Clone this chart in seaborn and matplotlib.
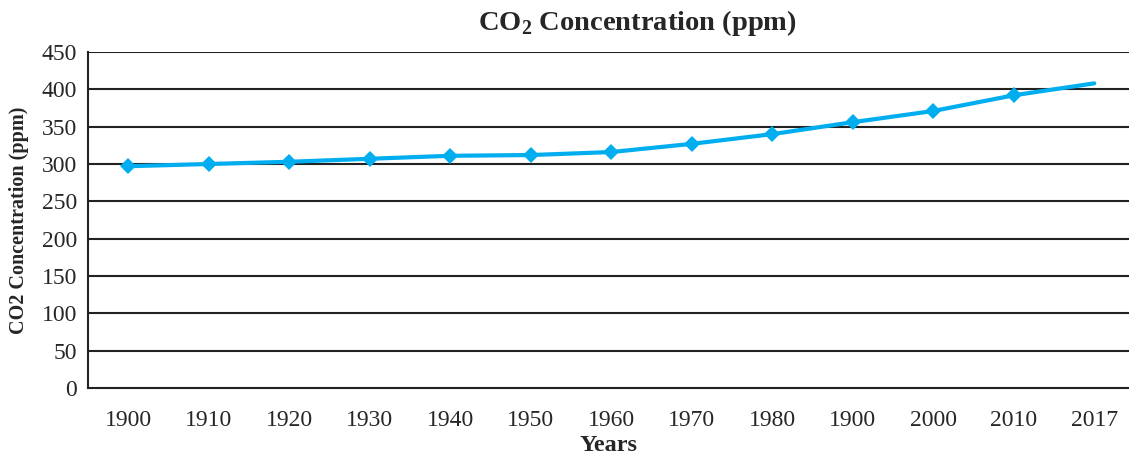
import numpy as np
import pandas as pd
import matplotlib
matplotlib.use("Agg")
import matplotlib.pyplot as plt
import seaborn as sns

# Dados
years = ["1900", "1910", "1920", "1930", "1940", "1950", "1960",
         "1970", "1980", "1900", "2000", "2010", "2017"]
co2_ppm = [297, 300, 303, 307, 311, 312, 316, 327, 340, 356, 371, 392, 408]
y_ticks = [0, 50, 100, 150, 200, 250, 300, 350, 400, 450]

sns.set_style("white")
plt.rcParams["font.family"] = ["Liberation Serif", "DejaVu Serif"]
plt.rcParams["mathtext.fontset"] = "custom"
plt.rcParams["mathtext.bf"] = "Liberation Serif:bold"
plt.rcParams["mathtext.rm"] = "Liberation Serif:bold"

df = pd.DataFrame({"pos": np.arange(len(years)), "ppm": co2_ppm})

fig = plt.figure(figsize=(11.29, 4.55), dpi=100)
ax = fig.add_axes([88 / 1129, 1 - 388 / 455, 1 - 88 / 1129, (388 - 52) / 455])

sns.lineplot(data=df, x="pos", y="ppm", ax=ax, color="#00AEEF", linewidth=3,
             marker="D", markersize=8, markeredgewidth=0,
             markevery=list(range(len(years) - 1)), zorder=3)

ax.set_ylim(0, 450)
ax.set_yticks(y_ticks)
ax.set_xlim(-0.5, -0.5 + 1041 / 80.5)
ax.set_xticks(df["pos"])
ax.set_xticklabels(years)
ax.set_xticks(np.arange(-0.5, len(years) - 0.5, 1), minor=True)
ax.tick_params(axis="x", which="major", length=0, pad=16, labelsize=17)
ax.tick_params(axis="x", which="minor", length=7, width=1.5, color="#222222", direction="out")
ax.tick_params(axis="y", length=6, width=1.5, color="#222222", labelsize=17, pad=2)

for v in y_ticks[1:]:
    ax.axhline(v, color="#222222", linewidth=1.5, zorder=1)

for side in ["top", "right"]:
    ax.spines[side].set_visible(False)
for side in ["left", "bottom"]:
    ax.spines[side].set_color("#222222")
    ax.spines[side].set_linewidth(1.5)

ax.set_xlabel("Years", fontsize=17.5, fontweight="bold", labelpad=3)
ax.set_ylabel("CO2 Concentration (ppm)", fontsize=14.5, fontweight="bold", labelpad=9)
fig.text(637 / 1129, 1 - 23 / 455, r"CO$_\mathbf{2}$ Concentration (ppm)",
         fontsize=20.5, fontweight="bold", ha="center", va="center")

fig.savefig("out.png", dpi=100)
plt.close()
